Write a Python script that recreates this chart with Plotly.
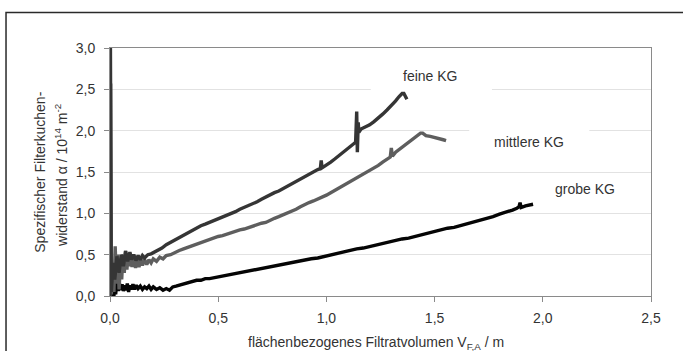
import plotly.graph_objects as go

# ---------------- data ----------------
feine_x = [0.000, 0.002, 0.006, 0.014, 0.022, 0.032, 0.042, 0.052, 0.062, 0.072, 0.082, 0.092,
           0.100, 0.110, 0.120, 0.130, 0.140, 0.150, 0.160, 0.175, 0.190, 0.205, 0.220, 0.240,
           0.260, 0.280, 0.300, 0.320, 0.340, 0.360, 0.380, 0.400, 0.420, 0.440, 0.460, 0.480,
           0.500, 0.520, 0.540, 0.560, 0.580, 0.600, 0.620, 0.640, 0.660, 0.680, 0.700, 0.720,
           0.740, 0.760, 0.780, 0.800, 0.820, 0.840, 0.860, 0.880, 0.900, 0.920, 0.940, 0.960,
           0.972, 0.976, 0.980, 1.000, 1.020, 1.040, 1.060, 1.080, 1.100, 1.120, 1.135, 1.140,
           1.143, 1.147, 1.150, 1.160, 1.180, 1.200, 1.220, 1.240, 1.260, 1.280, 1.300, 1.320,
           1.335, 1.350, 1.358, 1.366, 1.372]
feine_y = [0.00, 3.00, 0.05, 0.40, 0.20, 0.48, 0.28, 0.50, 0.36, 0.54, 0.42, 0.53,
           0.44, 0.50, 0.43, 0.49, 0.44, 0.49, 0.46, 0.50, 0.51, 0.53, 0.56, 0.58,
           0.62, 0.65, 0.68, 0.71, 0.74, 0.77, 0.79, 0.82, 0.85, 0.87, 0.89, 0.92,
           0.94, 0.96, 0.98, 1.00, 1.02, 1.05, 1.07, 1.10, 1.12, 1.14, 1.17, 1.20,
           1.22, 1.25, 1.27, 1.30, 1.33, 1.36, 1.39, 1.42, 1.45, 1.47, 1.50, 1.53,
           1.54, 1.64, 1.55, 1.58, 1.62, 1.66, 1.70, 1.74, 1.78, 1.82, 1.86, 2.23,
           1.74, 2.10, 1.98, 2.02, 2.04, 2.07, 2.11, 2.15, 2.20, 2.25, 2.30, 2.36,
           2.41, 2.45, 2.45, 2.42, 2.38]

mittlere_x = [0.000, 0.003, 0.006, 0.012, 0.018, 0.024, 0.030, 0.036, 0.042, 0.048, 0.054, 0.060,
              0.066, 0.072, 0.078, 0.084, 0.090, 0.096, 0.102, 0.110, 0.118, 0.126, 0.134, 0.142,
              0.150, 0.160, 0.170, 0.180, 0.190, 0.200, 0.215, 0.230, 0.245, 0.260, 0.280, 0.300,
              0.320, 0.340, 0.360, 0.380, 0.400, 0.420, 0.440, 0.460, 0.480, 0.500, 0.520, 0.540,
              0.560, 0.580, 0.600, 0.620, 0.640, 0.660, 0.680, 0.700, 0.720, 0.740, 0.760, 0.780,
              0.800, 0.820, 0.840, 0.860, 0.880, 0.900, 0.920, 0.940, 0.960, 0.980, 1.000, 1.020,
              1.040, 1.060, 1.080, 1.100, 1.120, 1.140, 1.160, 1.180, 1.200, 1.220, 1.240, 1.260,
              1.280, 1.295, 1.300, 1.305, 1.320, 1.340, 1.360, 1.380, 1.400, 1.420, 1.435, 1.445,
              1.460, 1.480, 1.500, 1.520, 1.540, 1.553]
mittlere_y = [0.00, 2.57, 0.02, 0.32, 0.05, 0.60, 0.15, 0.50, 0.08, 0.40, 0.20, 0.50,
              0.28, 0.55, 0.32, 0.52, 0.36, 0.50, 0.35, 0.47, 0.34, 0.46, 0.35, 0.45,
              0.37, 0.44, 0.38, 0.44, 0.40, 0.45, 0.42, 0.47, 0.45, 0.49, 0.50, 0.53,
              0.55, 0.57, 0.59, 0.61, 0.63, 0.64, 0.67, 0.68, 0.70, 0.72, 0.73, 0.75,
              0.76, 0.78, 0.80, 0.81, 0.83, 0.85, 0.86, 0.88, 0.89, 0.92, 0.94, 0.96,
              0.98, 1.00, 1.02, 1.05, 1.08, 1.11, 1.13, 1.15, 1.17, 1.20, 1.22, 1.25,
              1.28, 1.31, 1.34, 1.36, 1.39, 1.42, 1.45, 1.48, 1.51, 1.55, 1.58, 1.62,
              1.66, 1.68, 1.79, 1.69, 1.74, 1.78, 1.82, 1.86, 1.90, 1.94, 1.97, 1.97,
              1.94, 1.93, 1.92, 1.90, 1.89, 1.88]

grobe_x = [0.010, 0.014, 0.018, 0.022, 0.026, 0.032, 0.038, 0.044, 0.050, 0.056, 0.062, 0.068,
           0.074, 0.080, 0.086, 0.092, 0.098, 0.106, 0.114, 0.122, 0.130, 0.140, 0.150, 0.160,
           0.170, 0.180, 0.190, 0.200, 0.215, 0.230, 0.245, 0.260, 0.275, 0.290, 0.305, 0.320,
           0.340, 0.360, 0.380, 0.400, 0.420, 0.440, 0.460, 0.480, 0.500, 0.520, 0.540, 0.560,
           0.580, 0.600, 0.620, 0.640, 0.660, 0.680, 0.700, 0.720, 0.740, 0.760, 0.780, 0.800,
           0.820, 0.840, 0.860, 0.880, 0.900, 0.930, 0.960, 0.990, 1.020, 1.050, 1.080, 1.110,
           1.140, 1.170, 1.200, 1.230, 1.260, 1.290, 1.320, 1.350, 1.380, 1.410, 1.440, 1.470,
           1.500, 1.530, 1.560, 1.590, 1.620, 1.650, 1.680, 1.710, 1.740, 1.770, 1.800, 1.830,
           1.860, 1.880, 1.890, 1.895, 1.900, 1.920, 1.940, 1.955]
grobe_y = [0.00, 0.16, 0.00, 0.12, 0.02, 0.17, 0.06, 0.15, 0.07, 0.14, 0.06, 0.13,
           0.07, 0.15, 0.05, 0.13, 0.08, 0.14, 0.08, 0.13, 0.09, 0.12, 0.08, 0.11,
           0.09, 0.12, 0.08, 0.11, 0.08, 0.10, 0.07, 0.09, 0.07, 0.11, 0.12, 0.13,
           0.14, 0.16, 0.17, 0.19, 0.19, 0.21, 0.21, 0.22, 0.23, 0.24, 0.25, 0.26,
           0.27, 0.28, 0.30, 0.31, 0.32, 0.33, 0.34, 0.35, 0.36, 0.37, 0.38, 0.39,
           0.40, 0.41, 0.42, 0.43, 0.44, 0.45, 0.46, 0.48, 0.49, 0.51, 0.53, 0.55,
           0.57, 0.58, 0.60, 0.62, 0.64, 0.66, 0.67, 0.69, 0.70, 0.72, 0.75, 0.76,
           0.78, 0.80, 0.82, 0.83, 0.85, 0.87, 0.89, 0.91, 0.93, 0.96, 0.99, 1.01,
           1.04, 1.06, 1.08, 1.13, 1.07, 1.09, 1.10, 1.11]

series_names = ["feine KG", "mittlere KG", "grobe KG"]
x_ticks = [0.0, 0.5, 1.0, 1.5, 2.0, 2.5]
y_ticks = [0.0, 0.5, 1.0, 1.5, 2.0, 2.5, 3.0]
x_title = "flächenbezogenes Filtratvolumen V<sub>F,A</sub> / m"
y_title_1 = "Spezifischer Filterkuchen-"
y_title_2 = "widerstand α / 10<sup>14</sup> m<sup>-2</sup>"

# ---------------- figure ----------------
FONT = "Liberation Sans, Arial, sans-serif"
TXT = "#333333"

fig = go.Figure()
for xs, ys, name, col in [
    (grobe_x, grobe_y, series_names[2], "#050505"),
    (mittlere_x, mittlere_y, series_names[1], "#5e5e5e"),
    (feine_x, feine_y, series_names[0], "#353535"),
]:
    fig.add_trace(go.Scatter(x=xs, y=ys, mode="lines", name=name,
                             line=dict(color=col, width=3.4), showlegend=False))

axis_common = dict(
    showline=True, linecolor="#8a8a8a", linewidth=1, mirror=True,
    ticks="outside", ticklen=5, tickcolor="#8a8a8a", tickwidth=1,
    tickfont=dict(family=FONT, size=14, color=TXT),
    zeroline=False, tickformat=".1f",
)
fig.update_xaxes(range=[0, 2.5], tickvals=x_ticks, showgrid=False,
                 ticklabelstandoff=4, **axis_common)
fig.update_yaxes(range=[0, 3.0], tickvals=y_ticks, showgrid=True,
                 gridcolor="#e2e2e2", gridwidth=1, ticklabelstandoff=6, **axis_common)

# white label boxes that interrupt the gridlines (behind the curves)
label_boxes = [
    (1.205, 1.765, 2.47, 2.85),   # feine KG
    (1.66, 2.215, 1.86, 2.14),    # mittlere KG
]
shapes = []
for x0, x1, y0, y1 in label_boxes:
    shapes.append(dict(type="rect", xref="x", yref="y", x0=x0, x1=x1, y0=y0, y1=y1,
                       fillcolor="white", line=dict(width=0), layer="between"))
# outer frame (cropped at the right and bottom)
shapes.append(dict(type="rect", xref="paper", yref="paper",
                   x0=-0.1922, x1=1.08, y0=-0.27, y1=1.1429,
                   line=dict(color="#2a2a2a", width=1.5), fillcolor="rgba(0,0,0,0)",
                   layer="above"))

annotations = [
    dict(x=1.481, y=2.66, xref="x", yref="y", text=series_names[0], showarrow=False,
         font=dict(family=FONT, size=14, color=TXT)),
    dict(x=1.937, y=1.86, xref="x", yref="y", text=series_names[1], showarrow=False,
         font=dict(family=FONT, size=14, color=TXT)),
    dict(x=2.195, y=1.29, xref="x", yref="y", text=series_names[2], showarrow=False,
         font=dict(family=FONT, size=14, color=TXT)),
    dict(x=0.4917, y=-0.19, xref="paper", yref="paper", text=x_title, showarrow=False,
         xanchor="center", yanchor="middle", font=dict(family=FONT, size=14, color=TXT)),
    dict(x=-0.1294, y=0.501, xref="paper", yref="paper", text=y_title_1, showarrow=False,
         textangle=-90, xanchor="center", yanchor="middle",
         font=dict(family=FONT, size=14, color=TXT)),
    dict(x=-0.0893, y=0.487, xref="paper", yref="paper", text=y_title_2, showarrow=False,
         textangle=-90, xanchor="center", yanchor="middle",
         font=dict(family=FONT, size=14, color=TXT)),
]

fig.update_layout(
    width=683, height=351,
    margin=dict(l=110, r=32, t=48, b=55),
    paper_bgcolor="white", plot_bgcolor="white",
    separators=",.",
    shapes=shapes, annotations=annotations,
    font=dict(family=FONT, size=14, color=TXT),
)

fig.write_html("out.html")
